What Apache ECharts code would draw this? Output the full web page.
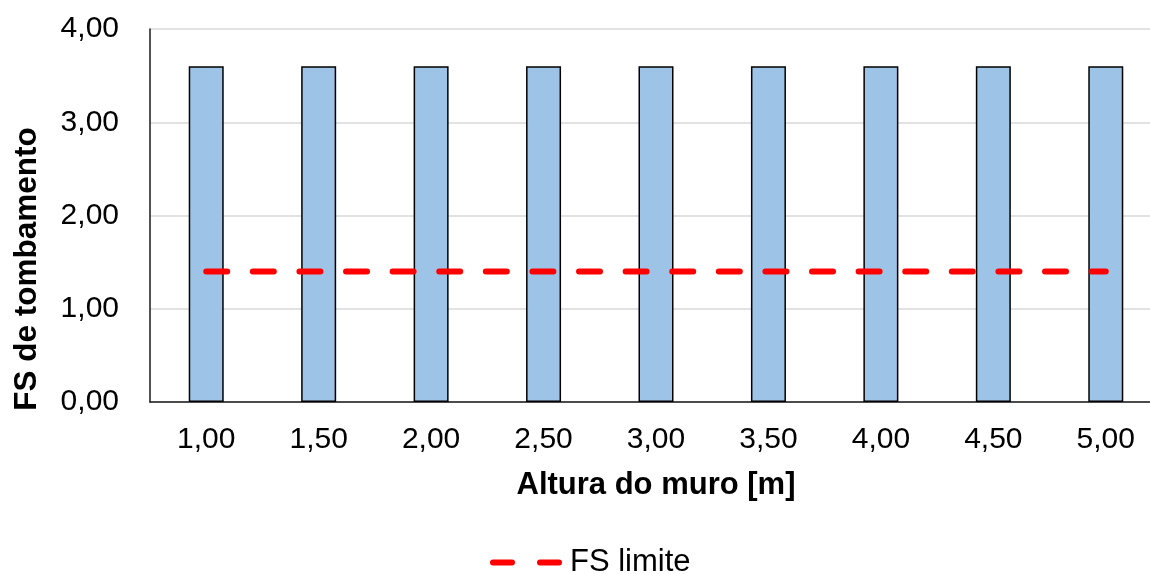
<!DOCTYPE html>
<html>
<head>
<meta charset="utf-8">
<title>FS de tombamento</title>
<script src="https://cdn.jsdelivr.net/npm/echarts@6/dist/echarts.min.js"></script>
<style>
  html, body { margin: 0; padding: 0; background: #ffffff; }
  #chart { width: 1150px; height: 574px; }
</style>
</head>
<body>
<div id="chart"></div>
<script>
// Wall heights (m) on the category axis
const alturas = ['1,00', '1,50', '2,00', '2,50', '3,00', '3,50', '4,00', '4,50', '5,00'];
// Overturning safety factor for each wall height
const fsTombamento = [3.6, 3.6, 3.6, 3.6, 3.6, 3.6, 3.6, 3.6, 3.6];
// Minimum admissible safety factor
const fsLimite = [1.4, 1.4, 1.4, 1.4, 1.4, 1.4, 1.4, 1.4, 1.4];
// Value axis range
const yMin = 0, yMax = 4, yStep = 1;

const FONT = '"Liberation Sans", Arial, sans-serif';
const fmt = v => v.toFixed(2).replace('.', ',');

// Legend key: two rounded red dashes, like the dashed limit line
const dashIcon = 'path://M3,0 H22 A3,3 0 0 1 22,6 H3 A3,3 0 0 1 3,0 Z ' +
                 'M50,0 H69 A3,3 0 0 1 69,6 H50 A3,3 0 0 1 50,0 Z';

const chart = echarts.init(document.getElementById('chart'), null, { renderer: 'canvas' });

chart.setOption({
  backgroundColor: '#ffffff',
  animation: false,
  // plot area runs slightly past the right edge of the canvas
  grid: { left: 150, width: 1012, top: 29, bottom: 172, containLabel: false, outerBoundsMode: 'none' },
  legend: {
    data: [{ name: 'FS limite', icon: dashIcon, itemStyle: { color: '#ff0000' } }],
    left: 490,
    top: 547,
    padding: 0,
    itemWidth: 72,
    itemHeight: 6,
    textStyle: { fontFamily: FONT, fontSize: 31, color: '#000000', padding: [0, 0, 0, 3] }
  },
  xAxis: {
    type: 'category',
    data: alturas,
    boundaryGap: true,
    name: 'Altura do muro [m]',
    nameLocation: 'middle',
    nameGap: 68,
    nameTextStyle: { fontFamily: FONT, fontSize: 31, fontWeight: 'bold', color: '#000000' },
    axisLine: { lineStyle: { color: '#1a1a1a', width: 1.5 } },
    axisTick: { show: false },
    axisLabel: { fontFamily: FONT, fontSize: 30, color: '#000000', margin: 23 },
    splitLine: { show: false }
  },
  yAxis: {
    type: 'value',
    min: yMin,
    max: yMax,
    interval: yStep,
    axisLine: { show: true, lineStyle: { color: '#1a1a1a', width: 1.5 } },
    axisTick: { show: false },
    axisLabel: { fontFamily: FONT, fontSize: 30, color: '#000000', margin: 31, formatter: fmt },
    splitLine: { show: true, lineStyle: { color: '#d9d9d9', width: 1.5 } }
  },
  graphic: [{
    type: 'text',
    x: 27,
    y: 269,
    rotation: Math.PI / 2,
    style: {
      text: 'FS de tombamento',
      font: 'bold 31.5px ' + FONT,
      fill: '#000000',
      align: 'center',
      verticalAlign: 'middle'
    }
  }],
  series: [
    {
      name: 'FS de tombamento',
      type: 'bar',
      data: fsTombamento,
      barWidth: 35,
      itemStyle: { color: '#9dc3e6', borderColor: '#000000', borderWidth: 1.5 },
      z: 2
    },
    {
      name: 'FS limite',
      type: 'line',
      data: fsLimite,
      symbol: 'none',
      showSymbol: false,
      lineStyle: { color: '#ff0000', width: 6, type: [21, 25.6], cap: 'round' },
      itemStyle: { color: '#ff0000' },
      z: 3
    }
  ]
});
</script>
</body>
</html>
